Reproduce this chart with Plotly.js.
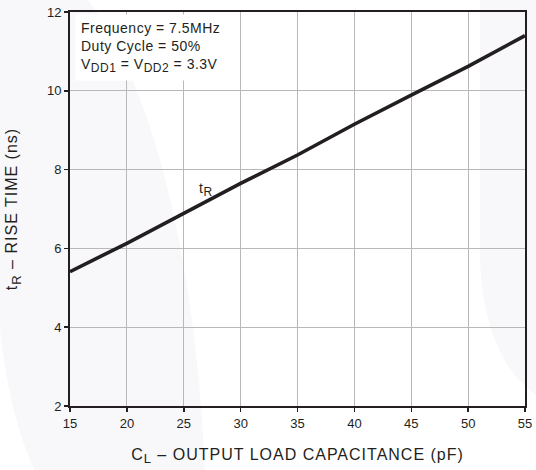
<!DOCTYPE html>
<html>
<head>
<meta charset="utf-8">
<script src="https://cdn.plot.ly/plotly-3.0.1.min.js"></script>
<style>
html,body{margin:0;padding:0;background:#fff;}
#chart{width:536px;height:470px;}
.xtitle,.ytitle{letter-spacing:1px;}
.annotation-text{letter-spacing:0.5px;}
</style>
</head>
<body>
<div id="chart"></div>
<script>
var capacitance = [15, 20, 25, 30, 35, 40, 45, 50, 55];
var riseTime = [5.41, 6.13, 6.89, 7.65, 8.37, 9.15, 9.89, 10.62, 11.4];
var xTicks = [15, 20, 25, 30, 35, 40, 45, 50, 55];
var yTicks = [2, 4, 6, 8, 10, 12];
var conditions = ['Frequency = 7.5MHz', 'Duty Cycle = 50%',
  'V<sub><span style="font-size:12px">DD1</span></sub> = V<sub><span style="font-size:12px">DD2</span></sub> = 3.3V'];
var curveLabel = 't<sub><span style="font-size:12px">R</span></sub>';

var fam = 'Liberation Sans, Arial, sans-serif';
var ink = '#231f20';
var tickFont = {family: fam, color: ink, size: 13};
var tint = '#f8f7fa';

var trace = {
  x: capacitance, y: riseTime, mode: 'lines', type: 'scatter',
  line: {color: ink, width: 3.6}, hoverinfo: 'skip', showlegend: false
};

var layout = {
  width: 536, height: 470,
  margin: {l: 70, r: 11, t: 12, b: 64},
  paper_bgcolor: '#ffffff', plot_bgcolor: 'rgba(0,0,0,0)',
  font: tickFont,
  xaxis: {
    range: [15, 55], tickvals: xTicks, ticktext: xTicks.map(String),
    showgrid: true, gridcolor: '#b8b8b8', gridwidth: 1,
    showline: true, linecolor: ink, linewidth: 2, mirror: true,
    ticks: 'outside', ticklen: 4, tickcolor: ink, tickwidth: 1.5,
    zeroline: false, tickfont: tickFont,
    title: {text: 'C<sub><span style="font-size:13px">L</span></sub> – OUTPUT LOAD CAPACITANCE (pF)', font: {family: fam, size: 16, color: ink}, standoff: 19}
  },
  yaxis: {
    range: [2, 12], tickvals: yTicks, ticktext: yTicks.map(String),
    showgrid: true, gridcolor: '#b8b8b8', gridwidth: 1,
    showline: true, linecolor: ink, linewidth: 2, mirror: true,
    ticks: 'outside', ticklen: 4, tickcolor: ink, tickwidth: 1.5,
    zeroline: false, tickfont: tickFont,
    title: {text: 't<sub><span style="font-size:13px">R</span></sub> – RISE TIME (ns)', font: {family: fam, size: 16, color: ink}, standoff: 25}
  },
  shapes: [
    {type: 'path', xref: 'paper', yref: 'paper', layer: 'below',
     path: 'M -0.1538 1.0305 L 0.0396 1.0305 C 0.1758 0.8274 0.2747 0.3959 0.2967 -0.1624 L -0.0769 -0.1624 Q -0.1319 -0.0355 -0.1538 0.1929 Z',
     fillcolor: tint, line: {width: 0}},
    {type: 'path', xref: 'paper', yref: 'paper', layer: 'below',
     path: 'M 0.9011 1.0305 L 1.0242 1.0305 L 1.0242 0.0279 C 0.945 0.0914 0.9055 0.2183 0.9011 0.3706 Z',
     fillcolor: tint, line: {width: 0}}
  ],
  annotations: [
    {xref: 'paper', yref: 'paper', x: 0.012, y: 0.996, xanchor: 'left', yanchor: 'top',
     align: 'left', showarrow: false, bgcolor: '#ffffff', borderpad: 5,
     text: conditions.join('<br>'),
     font: {family: fam, size: 14, color: ink}},
    {xref: 'x', yref: 'y', x: 26.96, y: 7.5, showarrow: false,
     text: curveLabel, font: {family: fam, size: 14, color: ink}}
  ]
};

Plotly.newPlot('chart', [trace], layout, {staticPlot: true, displayModeBar: false});
</script>
</body>
</html>
